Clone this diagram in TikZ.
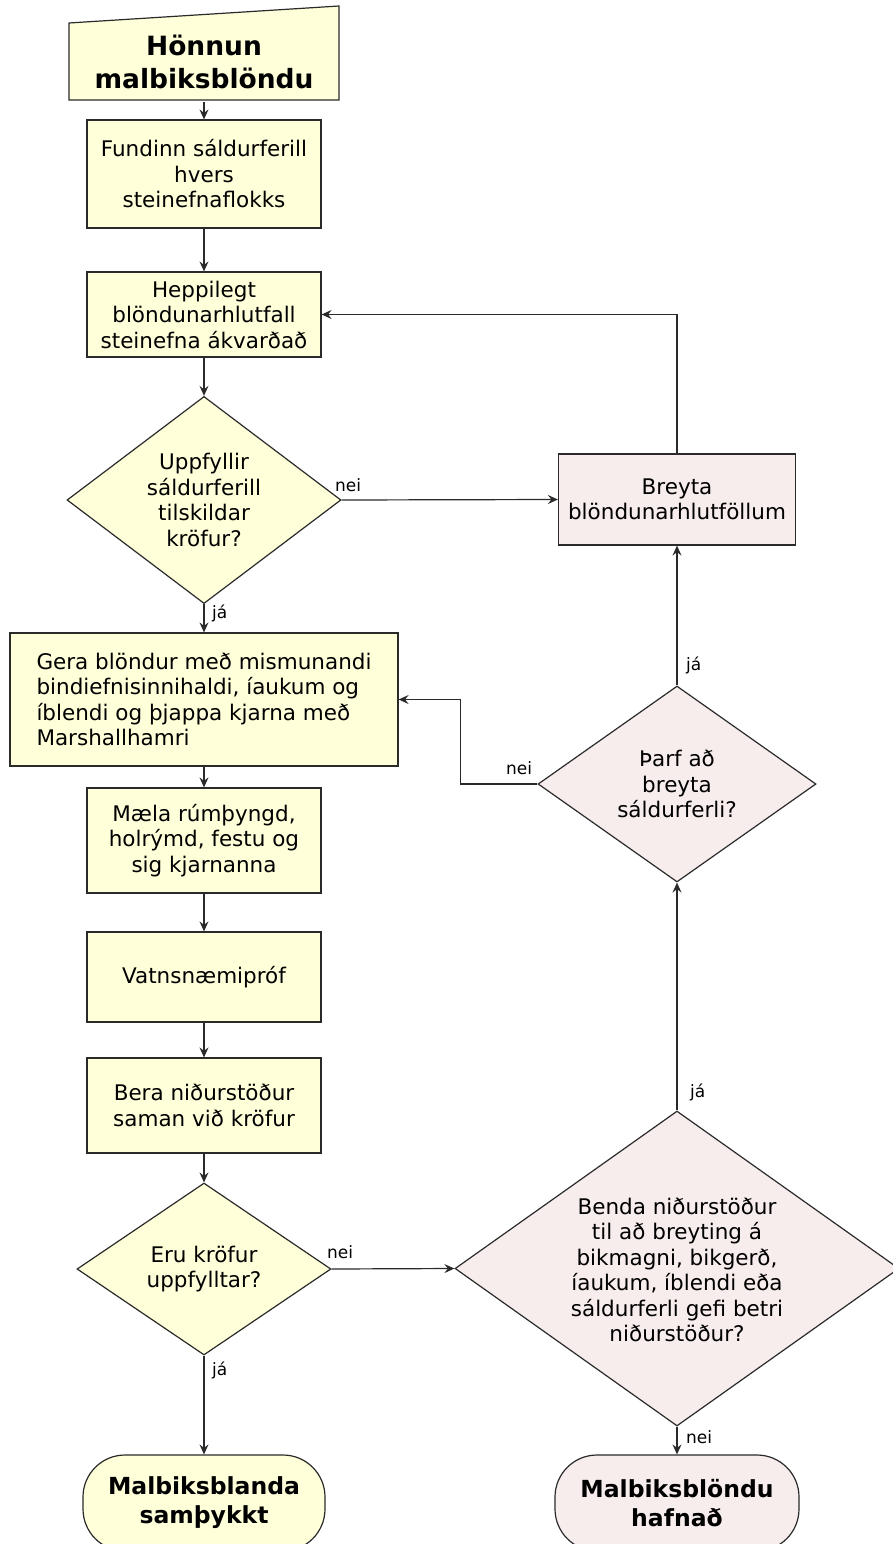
\documentclass[tikz,border=0pt]{standalone}
\usepackage{fontspec}
\setmainfont{DejaVu Sans}
\usetikzlibrary{shapes.geometric,arrows.meta,calc}
\definecolor{cream}{HTML}{FFFFDA}
\definecolor{rose}{HTML}{F8EDED}
\definecolor{ink}{HTML}{2A2A2A}
\begin{document}
\begin{tikzpicture}[x=1pt,y=-1pt,
  base/.style={draw=ink, line width=1.2pt, font=\fontsize{21.5}{25.5}\selectfont, align=center, inner sep=0pt},
  box/.style={base, rectangle, fill=cream},
  rbox/.style={base, rectangle, fill=rose},
  dia/.style={base, diamond, fill=cream},
  rdia/.style={base, diamond, fill=rose},
  bold/.style={font=\bfseries\fontsize{23.5}{29}\selectfont},
  term/.style={base, rectangle, rounded corners=42pt, bold},
  arr/.style={draw=ink, line width=1.2pt, -{Stealth[length=10pt,width=9pt,inset=3.5pt]}},
  lbl/.style={font=\fontsize{17}{20}\selectfont, inner sep=0pt}]
\useasboundingbox (0,0) rectangle (893,1544);
% manual input shape
\filldraw[fill=cream, draw=ink, line width=1.2pt] (69,100) -- (339,100) -- (339,6) -- (69,23) -- cycle;
\node[base, draw=none, font=\bfseries\fontsize{26.5}{33}\selectfont, minimum width=270pt, minimum height=78pt] (start) at (204,62) {Hönnun\\malbiksblöndu};
\node[box, minimum width=234pt, minimum height=108pt] (fund) at (204,174) {Fundinn sáldurferill\\hvers\\steinefnaflokks};
\node[box, minimum width=234pt, minimum height=85pt] (hepp) at (204,314.5) {Heppilegt\\blöndunarhlutfall\\steinefna ákvarðað};
\node[dia, minimum width=274pt, minimum height=206pt] (d1) at (204,500) {Uppfyllir\\sáldurferill\\tilskildar\\kröfur?};
\node[rbox, minimum width=237pt, minimum height=91pt] (breyta) at (677,499.5) {Breyta\\blöndunarhlutföllum};
\node[box, minimum width=388pt, minimum height=133pt, align=left] (gera) at (204,699.5) {Gera blöndur með mismunandi\\bindiefnisinnihaldi, íaukum og\\íblendi og þjappa kjarna með\\Marshallhamri};
\node[rdia, minimum width=278pt, minimum height=196pt] (d2) at (677,784) {Þarf að\\breyta\\sáldurferli?};
\node[box, minimum width=234pt, minimum height=105pt] (mala) at (204,840.5) {Mæla rúmþyngd,\\holrýmd, festu og\\sig kjarnanna};
\node[box, minimum width=234pt, minimum height=90pt] (vatn) at (204,977) {Vatnsnæmipróf};
\node[box, minimum width=234pt, minimum height=95pt] (bera) at (204,1105.5) {Bera niðurstöður\\saman við kröfur};
\node[dia, minimum width=254pt, minimum height=172pt] (d3) at (204,1269) {Eru kröfur\\uppfylltar?};
\node[rdia, minimum width=444pt, minimum height=315pt] (d4) at (677,1268.5) {};
\node[base, draw=none] (d4t) at (677,1270) {Benda niðurstöður\\til að breyting á\\bikmagni, bikgerð,\\íaukum, íblendi eða\\sáldurferli gefi betri\\niðurstöður?};
\node[term, fill=cream, minimum width=242pt, minimum height=96pt] (t1) at (204,1503) {Malbiksblanda\\samþykkt};
\node[term, fill=rose, minimum width=244pt, minimum height=96pt] (t2) at (677,1503) {Malbiksblöndu\\hafnað};
% connectors
\draw[arr] (start.south) -- (fund.north);
\draw[arr] (fund.south) -- (hepp.north);
\draw[arr] (hepp.south) -- (d1.north);
\draw[arr] (d1.east) -- (breyta.west);
\draw[arr] (breyta.north) |- (hepp.east);
\draw[arr] (d1.south) -- (gera.north);
\draw[arr] (gera.south) -- (mala.north);
\draw[arr] (mala.south) -- (vatn.north);
\draw[arr] (vatn.south) -- (bera.north);
\draw[arr] (bera.south) -- (d3.north);
\draw[arr] (d3.east) -- (d4.west);
\draw[arr] (d3.south) -- (t1.north);
\draw[arr] (d4.south) -- (t2.north);
\draw[arr] (d4.north) -- (d2.south);
\draw[arr] (d2.north) -- (breyta.south);
\draw[arr] (d2.west) -- ++(-77,0) |- (gera.east);
% labels
\node[lbl] (l1) at (348,485) {nei};
\node[lbl, anchor=west] (l2) at (212,613) {já};
\node[lbl, anchor=west] (l3) at (686,665) {já};
\node[lbl] (l4) at (519,768) {nei};
\node[lbl, anchor=west] (l5) at (690,1092) {já};
\node[lbl] (l6) at (340,1252) {nei};
\node[lbl, anchor=west] (l7) at (212,1370) {já};
\node[lbl, anchor=west] (l8) at (686,1437) {nei};
\end{tikzpicture}
\end{document}
